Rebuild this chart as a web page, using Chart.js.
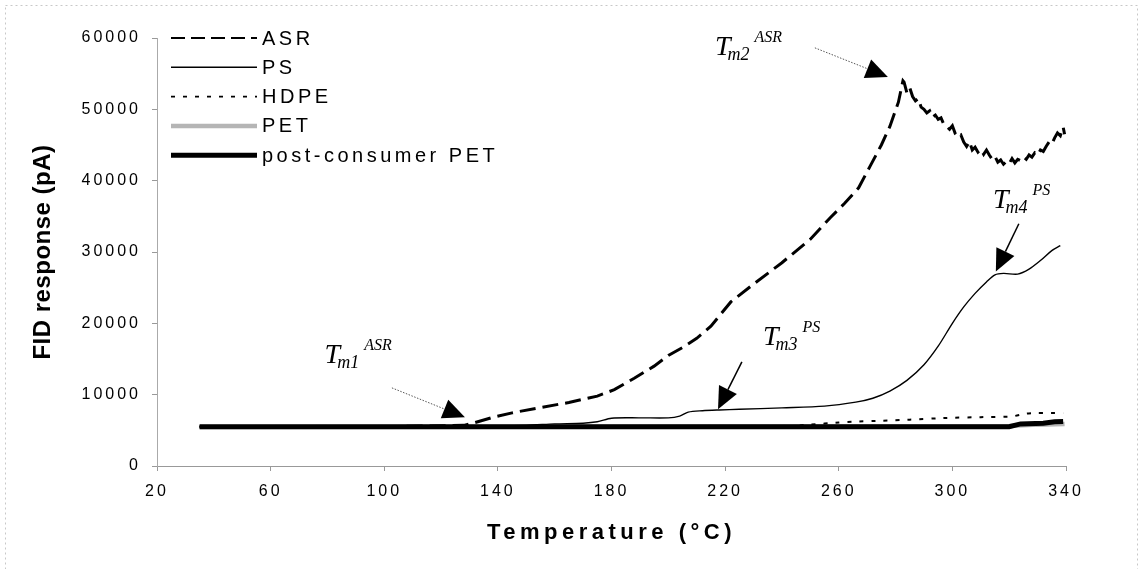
<!DOCTYPE html>
<html>
<head>
<meta charset="utf-8">
<script src="https://cdn.jsdelivr.net/npm/chart.js@4.4.0/dist/chart.umd.min.js"></script>
<style>
  html, body { margin: 0; padding: 0; background: #fff; }
  #wrap { width: 1140px; height: 569px; }
</style>
</head>
<body>
<div id="wrap"><canvas id="myChart" width="1140" height="569"></canvas></div>
<script>
// temperature (°C) / FID response (pA)
const asrT = [35, 100, 128, 132, 138, 145, 155, 165, 175, 181, 188, 195, 200, 205, 210, 215, 222, 230, 240, 250, 257, 262, 267, 271, 275, 278, 281, 282.6,
  283, 284, 285, 286, 287, 288, 289, 290, 291, 292, 293, 294, 295, 296, 297, 298, 299, 300, 301, 302, 303, 304, 305, 306, 307, 308, 309, 310,
  311, 312, 313, 314, 315, 316, 317, 318, 319, 320, 321, 322, 323, 324, 325, 326, 327, 328, 329, 330, 331, 332, 333, 334, 335, 336, 337, 338, 339, 339.5];
const asrV = [5500, 5500, 5700, 6100, 6800, 7450, 8200, 8900, 9800, 10700, 12300, 14000, 15500, 16600, 17900, 19600, 23000, 25500, 28500, 31800, 34800, 36800, 39000, 42000, 45000, 47600, 51000, 54000,
  53800, 52300, 53000, 51800, 51200, 51500, 50300, 50000, 49500, 49800, 48900, 49200, 48600, 48800, 47900, 47600, 47200, 47700, 46600, 46100, 46400, 45400, 44800, 45500, 44300, 44700, 44000, 44400,
  43700, 44300, 43600, 43000, 43400, 42600, 42900, 42300, 42700, 42400, 43100, 42500, 43000, 42800, 43300, 43000, 43600, 43300, 43900, 43600, 44300, 44100, 44800, 45400, 45100, 46000, 46700, 46300, 47500, 46500];

const psT = [35, 120, 150, 160, 170, 175, 180, 190, 200, 204, 207, 212, 218, 225, 240, 255, 266, 272, 278, 284, 290, 295, 300, 304, 308, 312, 315, 318, 323, 327, 331, 335, 338];
const psV = [5500, 5500, 5700, 5900, 6000, 6200, 6700, 6750, 6750, 7000, 7550, 7750, 7860, 7950, 8150, 8400, 8950, 9500, 10500, 12000, 14200, 16800, 20000, 22300, 24200, 25800, 26800, 27000, 26900, 27600, 28800, 30200, 30900];

const hdpeT = [35, 100, 200, 240, 250, 260, 266, 275, 285, 298, 310, 321, 326, 330, 336, 339];
const hdpeV = [5500, 5500, 5500, 5550, 5800, 6100, 6220, 6350, 6500, 6740, 6850, 6950, 7350, 7440, 7440, 7400];

const petT = [35, 150, 200, 320, 330, 339.5];
const petV = [5450, 5500, 5550, 5600, 5800, 5900];

const pcPetT = [35, 320, 324, 332, 336, 339];
const pcPetV = [5500, 5500, 5900, 6000, 6200, 6250];

const xTicks = { min: 20, max: 340, step: 40 };
const yTicks = { min: 0, max: 60000, step: 10000 };

function pts(xs, ys) {
  return xs.map((x, i) => ({ x: x, y: ys[i] }));
}

// annotation labels T_m^..., anchored in data units
const notes = [
  { sub: 'm1', sup: 'ASR', at: [79, 14460], tail: [102.7, 10950], tip: [128.4, 6835], dotted: true },
  { sub: 'm2', sup: 'ASR', at: [216.4, 57680], tail: [251.6, 58620], tip: [277.3, 54550], dotted: true },
  { sub: 'm3', sup: 'PS', at: [233.3, 16980], tail: [225.9, 14600], tip: [217.5, 7960], dotted: false },
  { sub: 'm4', sup: 'PS', at: [314.3, 36210], tail: [323.4, 33960], tip: [315.3, 27270], dotted: false }
];

const SANS = '"Liberation Sans", Arial, sans-serif';
const SERIF = '"Liberation Serif", "Times New Roman", serif';

function patchTitle(scale, sp) {
  if (!scale || scale._spPatched) return;
  const orig = scale.drawTitle;
  scale.drawTitle = function () {
    const c = this.ctx;
    const prev = c.letterSpacing;
    c.letterSpacing = sp;
    orig.call(this);
    c.letterSpacing = prev;
  };
  scale._spPatched = true;
}

const spacingPlugin = {
  id: 'spacing',
  beforeLayout(chart) { chart.ctx.letterSpacing = '3px'; },
  beforeDraw(chart) {
    const ctx = chart.ctx;
    ctx.letterSpacing = '3px';
    patchTitle(chart.scales.x, '4.5px');
    patchTitle(chart.scales.y, '0.5px');
    // light outer frame
    ctx.save();
    ctx.strokeStyle = '#c8c8c8';
    ctx.lineWidth = 1;
    ctx.setLineDash([2, 3]);
    ctx.strokeRect(5.5, 5.5, 1132, 580);
    ctx.restore();
  }
};

const legendPlugin = {
  id: 'lineLegend',
  afterDraw(chart) {
    const ctx = chart.ctx, a = chart.chartArea;
    ctx.save();
    ctx.font = '20px ' + SANS;
    ctx.letterSpacing = '3.5px';
    ctx.textBaseline = 'middle';
    ctx.fillStyle = '#000';
    chart.data.datasets.forEach((ds, i) => {
      const y = a.top + i * 29.3;
      const x0 = a.left + 14, x1 = a.left + 100;
      ctx.beginPath();
      ctx.strokeStyle = ds.borderColor;
      ctx.lineWidth = ds.legendWidth || ds.borderWidth;
      ctx.setLineDash(ds.legendDash || ds.borderDash || []);
      ctx.moveTo(x0, y);
      ctx.lineTo(x1, y);
      ctx.stroke();
      ctx.fillText(ds.label, x1 + 5, y + 1);
    });
    ctx.restore();
  }
};

function arrow(ctx, x0, y0, x1, y1, dotted) {
  const ang = Math.atan2(y1 - y0, x1 - x0);
  const hl = 22, hw = 10;
  const bx = x1 - hl * Math.cos(ang), by = y1 - hl * Math.sin(ang);
  ctx.save();
  ctx.strokeStyle = dotted ? '#555' : '#000';
  ctx.lineWidth = dotted ? 1 : 1.5;
  ctx.setLineDash(dotted ? [1.5, 1.5] : []);
  ctx.beginPath();
  ctx.moveTo(x0, y0);
  ctx.lineTo(bx, by);
  ctx.stroke();
  ctx.setLineDash([]);
  ctx.fillStyle = '#000';
  ctx.beginPath();
  ctx.moveTo(x1, y1);
  ctx.lineTo(bx + hw * Math.sin(ang), by - hw * Math.cos(ang));
  ctx.lineTo(bx - hw * Math.sin(ang), by + hw * Math.cos(ang));
  ctx.closePath();
  ctx.fill();
  ctx.restore();
}

const notePlugin = {
  id: 'notes',
  afterDatasetsDraw(chart) {
    const ctx = chart.ctx, sx = chart.scales.x, sy = chart.scales.y;
    notes.forEach(n => {
      arrow(ctx, sx.getPixelForValue(n.tail[0]), sy.getPixelForValue(n.tail[1]),
        sx.getPixelForValue(n.tip[0]), sy.getPixelForValue(n.tip[1]), n.dotted);
      const x = sx.getPixelForValue(n.at[0]), y = sy.getPixelForValue(n.at[1]);
      ctx.save();
      ctx.letterSpacing = '0px';
      ctx.fillStyle = '#000';
      ctx.textBaseline = 'alphabetic';
      ctx.font = 'italic 28px ' + SERIF;
      ctx.fillText('T', x, y);
      const w = ctx.measureText('T').width;
      ctx.font = 'italic 18px ' + SERIF;
      ctx.fillText(n.sub, x + w - 3, y + 5);
      const ws = ctx.measureText(n.sub).width;
      ctx.font = 'italic 16px ' + SERIF;
      ctx.fillText(n.sup, x + w - 3 + ws + 5, y - 13);
      ctx.restore();
    });
  }
};

const data = {
  datasets: [
    { label: 'ASR', data: pts(asrT, asrV), borderColor: '#000', borderWidth: 3, borderDash: [16, 7],
      legendWidth: 2, legendDash: [14, 6], tension: 0, order: 2 },
    { label: 'PS', data: pts(psT, psV), borderColor: '#000', borderWidth: 1.4, tension: 0.3, order: 1 },
    { label: 'HDPE', data: pts(hdpeT, hdpeV), borderColor: '#000', borderWidth: 2, borderDash: [4, 8],
      legendWidth: 1.6, legendDash: [4, 8], tension: 0.2, order: 3 },
    { label: 'PET', data: pts(petT, petV), borderColor: '#b5b5b5', borderWidth: 4.5, tension: 0, order: 4 },
    { label: 'post-consumer PET', data: pts(pcPetT, pcPetV), borderColor: '#000', borderWidth: 5, tension: 0, order: 0 }
  ]
};

const config = {
  type: 'line',
  data: data,
  options: {
    responsive: false,
    animation: false,
    devicePixelRatio: 1,
    layout: { padding: { top: 38, right: 74, left: 0, bottom: 0 } },
    elements: { point: { radius: 0 }, line: { fill: false } },
    plugins: { legend: { display: false }, tooltip: { enabled: false } },
    scales: {
      x: {
        type: 'linear',
        min: xTicks.min, max: xTicks.max,
        afterFit: s => { s.height = 103; },
        ticks: { stepSize: xTicks.step, color: '#000', padding: 11, font: { family: SANS, size: 16 },
          callback: v => String(v) },
        grid: { drawOnChartArea: false, drawTicks: true, tickLength: 5, color: '#999' },
        border: { display: true, color: '#999', dash: [4, 2] },
        title: { display: true, text: 'Temperature (°C)', color: '#000',
          font: { family: SANS, size: 22, weight: 'bold' }, padding: { top: 0, bottom: 23 } }
      },
      y: {
        min: yTicks.min, max: yTicks.max,
        afterFit: s => { s.width = 157; },
        ticks: { stepSize: yTicks.step, color: '#000', padding: 11, font: { family: SANS, size: 16 },
          callback: v => String(v) },
        grid: { drawOnChartArea: false, drawTicks: true, tickLength: 5, color: '#999' },
        border: { display: true, color: '#aaa', dash: [2, 2] },
        title: { display: true, text: 'FID response (pA)', color: '#000',
          font: { family: SANS, size: 24, weight: 'bold' }, padding: { top: 29, bottom: 0 } }
      }
    }
  },
  plugins: [spacingPlugin, notePlugin, legendPlugin]
};

const myChart = new Chart(document.getElementById('myChart'), config);
</script>
</body>
</html>
